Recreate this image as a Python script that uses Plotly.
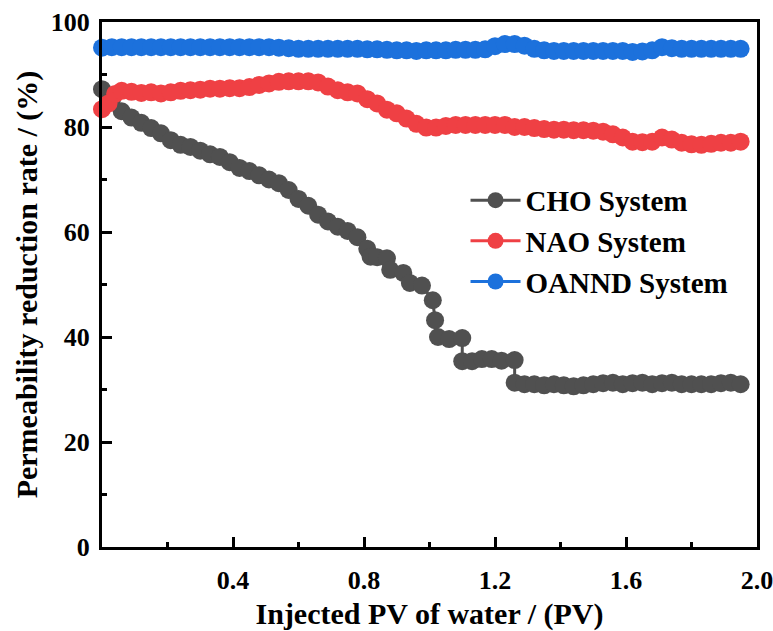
import plotly.graph_objects as go

cho_x = [0.00, 0.03, 0.06, 0.09, 0.12, 0.15, 0.18, 0.21, 0.24, 0.27, 0.30, 0.33, 0.36, 0.39,
         0.42, 0.45, 0.48, 0.51, 0.54, 0.57, 0.60, 0.63, 0.66, 0.69, 0.72, 0.75, 0.78, 0.81,
         0.82, 0.84, 0.87, 0.88, 0.92, 0.94, 0.977, 1.01, 1.017, 1.026, 1.06, 1.10, 1.10,
         1.13, 1.16, 1.19, 1.22, 1.26, 1.26, 1.29, 1.32, 1.35, 1.38, 1.41, 1.44, 1.47, 1.50,
         1.53, 1.56, 1.59, 1.62, 1.65, 1.68, 1.71, 1.74, 1.77, 1.80, 1.83, 1.86, 1.89, 1.92, 1.95]
cho_y = [87.2, 85.0, 83.0, 81.8, 80.8, 79.8, 78.8, 77.5, 76.6, 76.2, 75.5, 74.8, 74.3, 73.3,
         72.2, 71.6, 70.8, 70.0, 69.3, 68.0, 66.3, 65.0, 63.3, 62.0, 61.0, 60.2, 59.0, 56.8,
         55.3, 55.2, 55.0, 52.8, 52.2, 50.3, 49.8, 47.0, 43.2, 40.0, 39.6, 39.8, 35.4,
         35.4, 35.8, 35.8, 35.5, 35.6, 31.3, 31.0, 31.0, 30.8, 31.0, 30.8, 30.6, 30.8, 31.0,
         31.2, 31.3, 31.0, 31.2, 31.3, 31.0, 31.2, 31.3, 31.0, 31.0, 31.0, 31.0, 31.2, 31.3, 31.0]

nao_x = [0.00, 0.02, 0.04, 0.06, 0.09, 0.12, 0.15, 0.18, 0.21, 0.24, 0.27, 0.30, 0.33, 0.36,
         0.39, 0.42, 0.45, 0.48, 0.51, 0.54, 0.57, 0.60, 0.63, 0.66, 0.69, 0.72, 0.75, 0.78,
         0.81, 0.84, 0.87, 0.90, 0.93, 0.96, 0.99, 1.02, 1.05, 1.08, 1.11, 1.14, 1.17, 1.20,
         1.23, 1.26, 1.29, 1.32, 1.35, 1.38, 1.41, 1.44, 1.47, 1.50, 1.53, 1.56, 1.59, 1.62,
         1.65, 1.68, 1.71, 1.74, 1.77, 1.80, 1.83, 1.86, 1.89, 1.92, 1.95]
nao_y = [83.4, 84.5, 86.3, 86.9, 86.7, 86.5, 86.6, 86.4, 86.6, 86.9, 87.0, 87.1, 87.3, 87.3,
         87.4, 87.4, 87.6, 88.0, 88.3, 88.6, 88.7, 88.7, 88.7, 88.5, 87.7, 87.0, 86.6, 86.4,
         85.3, 84.5, 83.3, 82.6, 81.6, 80.6, 79.9, 79.9, 80.2, 80.4, 80.4, 80.4, 80.4, 80.4,
         80.4, 80.0, 80.0, 79.8, 79.6, 79.5, 79.5, 79.4, 79.4, 79.3, 79.1, 78.6, 78.0, 77.2,
         77.1, 77.2, 78.0, 77.6, 77.0, 76.7, 76.6, 76.8, 77.0, 77.0, 77.2]

oannd_x = [0.00, 0.03, 0.06, 0.09, 0.12, 0.15, 0.18, 0.21, 0.24, 0.27, 0.30, 0.33, 0.36, 0.39,
           0.42, 0.45, 0.48, 0.51, 0.54, 0.57, 0.60, 0.63, 0.66, 0.69, 0.72, 0.75, 0.78, 0.81,
           0.84, 0.87, 0.90, 0.93, 0.96, 0.99, 1.02, 1.05, 1.08, 1.11, 1.14, 1.17, 1.20, 1.23,
           1.26, 1.29, 1.32, 1.35, 1.38, 1.41, 1.44, 1.47, 1.50, 1.53, 1.56, 1.59, 1.62, 1.65,
           1.68, 1.71, 1.74, 1.77, 1.80, 1.83, 1.86, 1.89, 1.92, 1.95]
oannd_y = [95.1, 95.2, 95.2, 95.2, 95.2, 95.2, 95.2, 95.2, 95.2, 95.2, 95.2, 95.2, 95.2, 95.2,
           95.2, 95.2, 95.2, 95.2, 95.1, 95.0, 94.9, 94.9, 94.9, 94.9, 94.9, 94.9, 94.9, 94.8,
           94.8, 94.7, 94.6, 94.6, 94.5, 94.6, 94.6, 94.6, 94.7, 94.7, 94.7, 94.8, 95.4, 95.8,
           95.8, 95.5, 94.9, 94.6, 94.5, 94.5, 94.5, 94.5, 94.5, 94.5, 94.5, 94.5, 94.3, 94.4,
           94.6, 95.2, 95.0, 94.9, 94.9, 94.9, 94.9, 94.9, 94.9, 94.9]

names = ["CHO System", "NAO System", "OANND System"]
colors = ["#505050", "#EF4044", "#1C71DC"]

FONT = "Liberation Serif"

fig = go.Figure()
for xs, ys, name, col in [(cho_x, cho_y, names[0], colors[0]),
                          (nao_x, nao_y, names[1], colors[1]),
                          (oannd_x, oannd_y, names[2], colors[2])]:
    fig.add_trace(go.Scatter(x=xs, y=ys, mode="lines+markers", name=name,
                             line=dict(color=col, width=3),
                             marker=dict(color=col, size=18),
                             cliponaxis=False))

axis_common = dict(
    showline=True, linecolor="black", linewidth=3, mirror=True,
    ticks="inside", ticklen=10, tickwidth=3, tickcolor="black",
    showgrid=False, zeroline=False, automargin=False,
    ticklabeloverflow="allow",
    tickfont=dict(family=FONT, size=26, color="black", weight="bold"),
)

fig.update_xaxes(
    range=[0, 2.0],
    tickvals=[0.4, 0.8, 1.2, 1.6, 2.0],
    ticktext=["0.4", "0.8", "1.2", "1.6", "2.0"],
    minor=dict(ticks="inside", ticklen=5, tickwidth=3, tickcolor="black",
               tickvals=[0.2, 0.6, 1.0, 1.4, 1.8]),
    title=dict(text="Injected PV of water / (PV)",
               font=dict(family=FONT, size=30, color="black", weight="bold"), standoff=18),
    ticklabelstandoff=8,
    **axis_common,
)
fig.update_yaxes(
    range=[0, 100],
    tickvals=[0, 20, 40, 60, 80, 100],
    minor=dict(ticks="inside", ticklen=5, tickwidth=3, tickcolor="black",
               tickvals=[10, 30, 50, 70, 90]),
    title=dict(text="Permeability reduction rate / (%)",
               font=dict(family=FONT, size=30, color="black", weight="bold"), standoff=5),
    ticklabelstandoff=4,
    **axis_common,
)

fig.update_layout(
    width=773, height=631,
    margin=dict(l=102, r=16, t=22, b=84),
    plot_bgcolor="white", paper_bgcolor="white",
    showlegend=True,
    legend=dict(x=0.555, y=0.709, xanchor="left", yanchor="top",
                bgcolor="rgba(0,0,0,0)",
                font=dict(family=FONT, size=29, color="black", weight="bold"),
                itemwidth=50, tracegroupgap=0),
)

fig.write_html("out.html")
